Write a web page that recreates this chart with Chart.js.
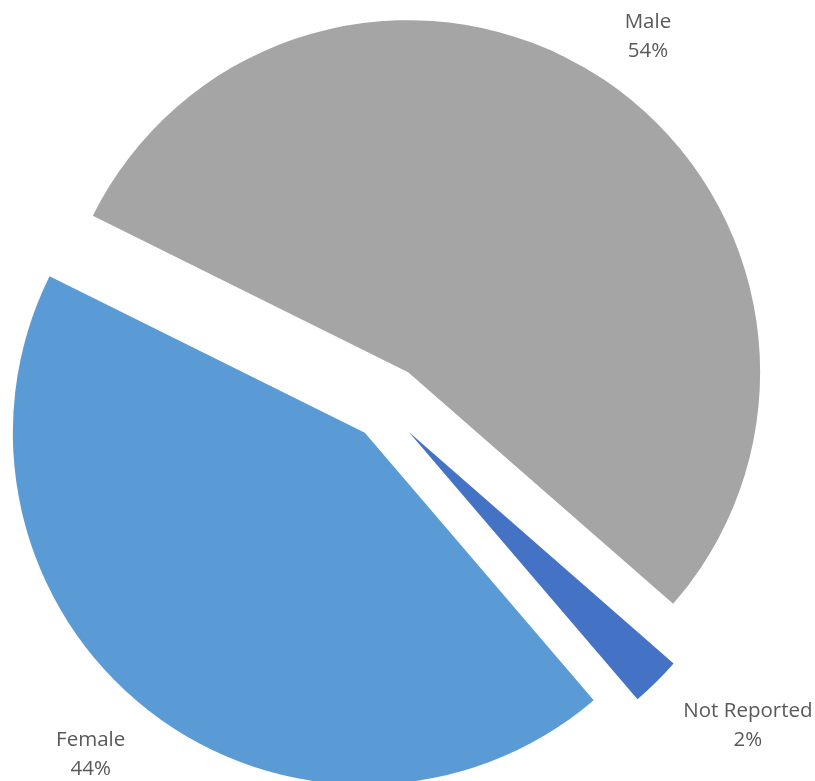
<!DOCTYPE html>
<html>
<head>
<meta charset="utf-8">
<title>Gender</title>
<script src="https://cdn.jsdelivr.net/npm/chart.js@4.4.1/dist/chart.umd.min.js"></script>
<style>
    body { margin: 0; background: #fff; }
    #contenedor { width: 815px; height: 781px; }
</style>
</head>
<body>
<div id="contenedor"><canvas id="grafico"></canvas></div>
<script>
let categorias = ["Male", "Not Reported", "Female"];
let valores = [54.1, 2.3, 43.6];
let colores = ["#A5A5A5", "#4472C4", "#5B9BD5"];

// separación de cada porción y posición de las etiquetas
let separacion = [170, 137, 128];
let distEtiqueta = [455, 483, 455];
let giroEtiqueta = [1.6, -4.1, 2.3];
let radio = 352;

function porcentaje(i) {
    let total = valores.reduce((a, b) => a + b, 0);
    return Math.round(valores[i] / total * 100) + "%";
}

// Chart.js agranda el radio y estrecha el ángulo de la porción separada,
// se corrige para que todas queden con el mismo radio y su ángulo real
let corregirPorcion = {
    id: "corregirPorcion",
    beforeDatasetsDraw(chart) {
        chart.getDatasetMeta(0).data.forEach(arc => {
            let o = (arc.options.offset || 0) / 4;
            let fix = 1 - Math.sin(Math.min(Math.PI, arc.circumference));
            arc.outerRadius = radio - o * fix;
            if (arc._fin !== arc.endAngle) {
                let d = o * fix / (Math.PI * radio);
                arc.startAngle -= d / 2;
                arc.endAngle += d / 2;
                arc._fin = arc.endAngle;
            }
        });
    }
};

let etiquetas = {
    id: "etiquetas",
    afterDatasetsDraw(chart) {
        let ctx = chart.ctx;
        ctx.save();
        ctx.font = "20.5px 'Open Sans'";
        ctx.fillStyle = "#595959";
        ctx.textAlign = "center";
        ctx.textBaseline = "middle";
        chart.getDatasetMeta(0).data.forEach((arc, i) => {
            let a = (arc.startAngle + arc.endAngle) / 2 + giroEtiqueta[i] * Math.PI / 180;
            let x = arc.x + Math.cos(a) * distEtiqueta[i];
            let y = arc.y + Math.sin(a) * distEtiqueta[i];
            ctx.fillText(categorias[i], x, y - 14.5);
            ctx.fillText(porcentaje(i), x, y + 14.5);
        });
        ctx.restore();
    }
};

new Chart(document.getElementById("grafico"), {
    type: "pie",
    data: {
        labels: categorias,
        datasets: [{
            data: valores,
            backgroundColor: colores,
            borderWidth: 0,
            offset: separacion,
            hoverOffset: 0
        }]
    },
    options: {
        responsive: true,
        maintainAspectRatio: false,
        animation: false,
        events: [],
        rotation: -63.6,
        radius: radio,
        layout: { padding: { top: 34, right: 46, bottom: 0, left: 0 } },
        plugins: {
            legend: { display: false },
            tooltip: { enabled: false }
        }
    },
    plugins: [corregirPorcion, etiquetas]
});
</script>
</body>
</html>
